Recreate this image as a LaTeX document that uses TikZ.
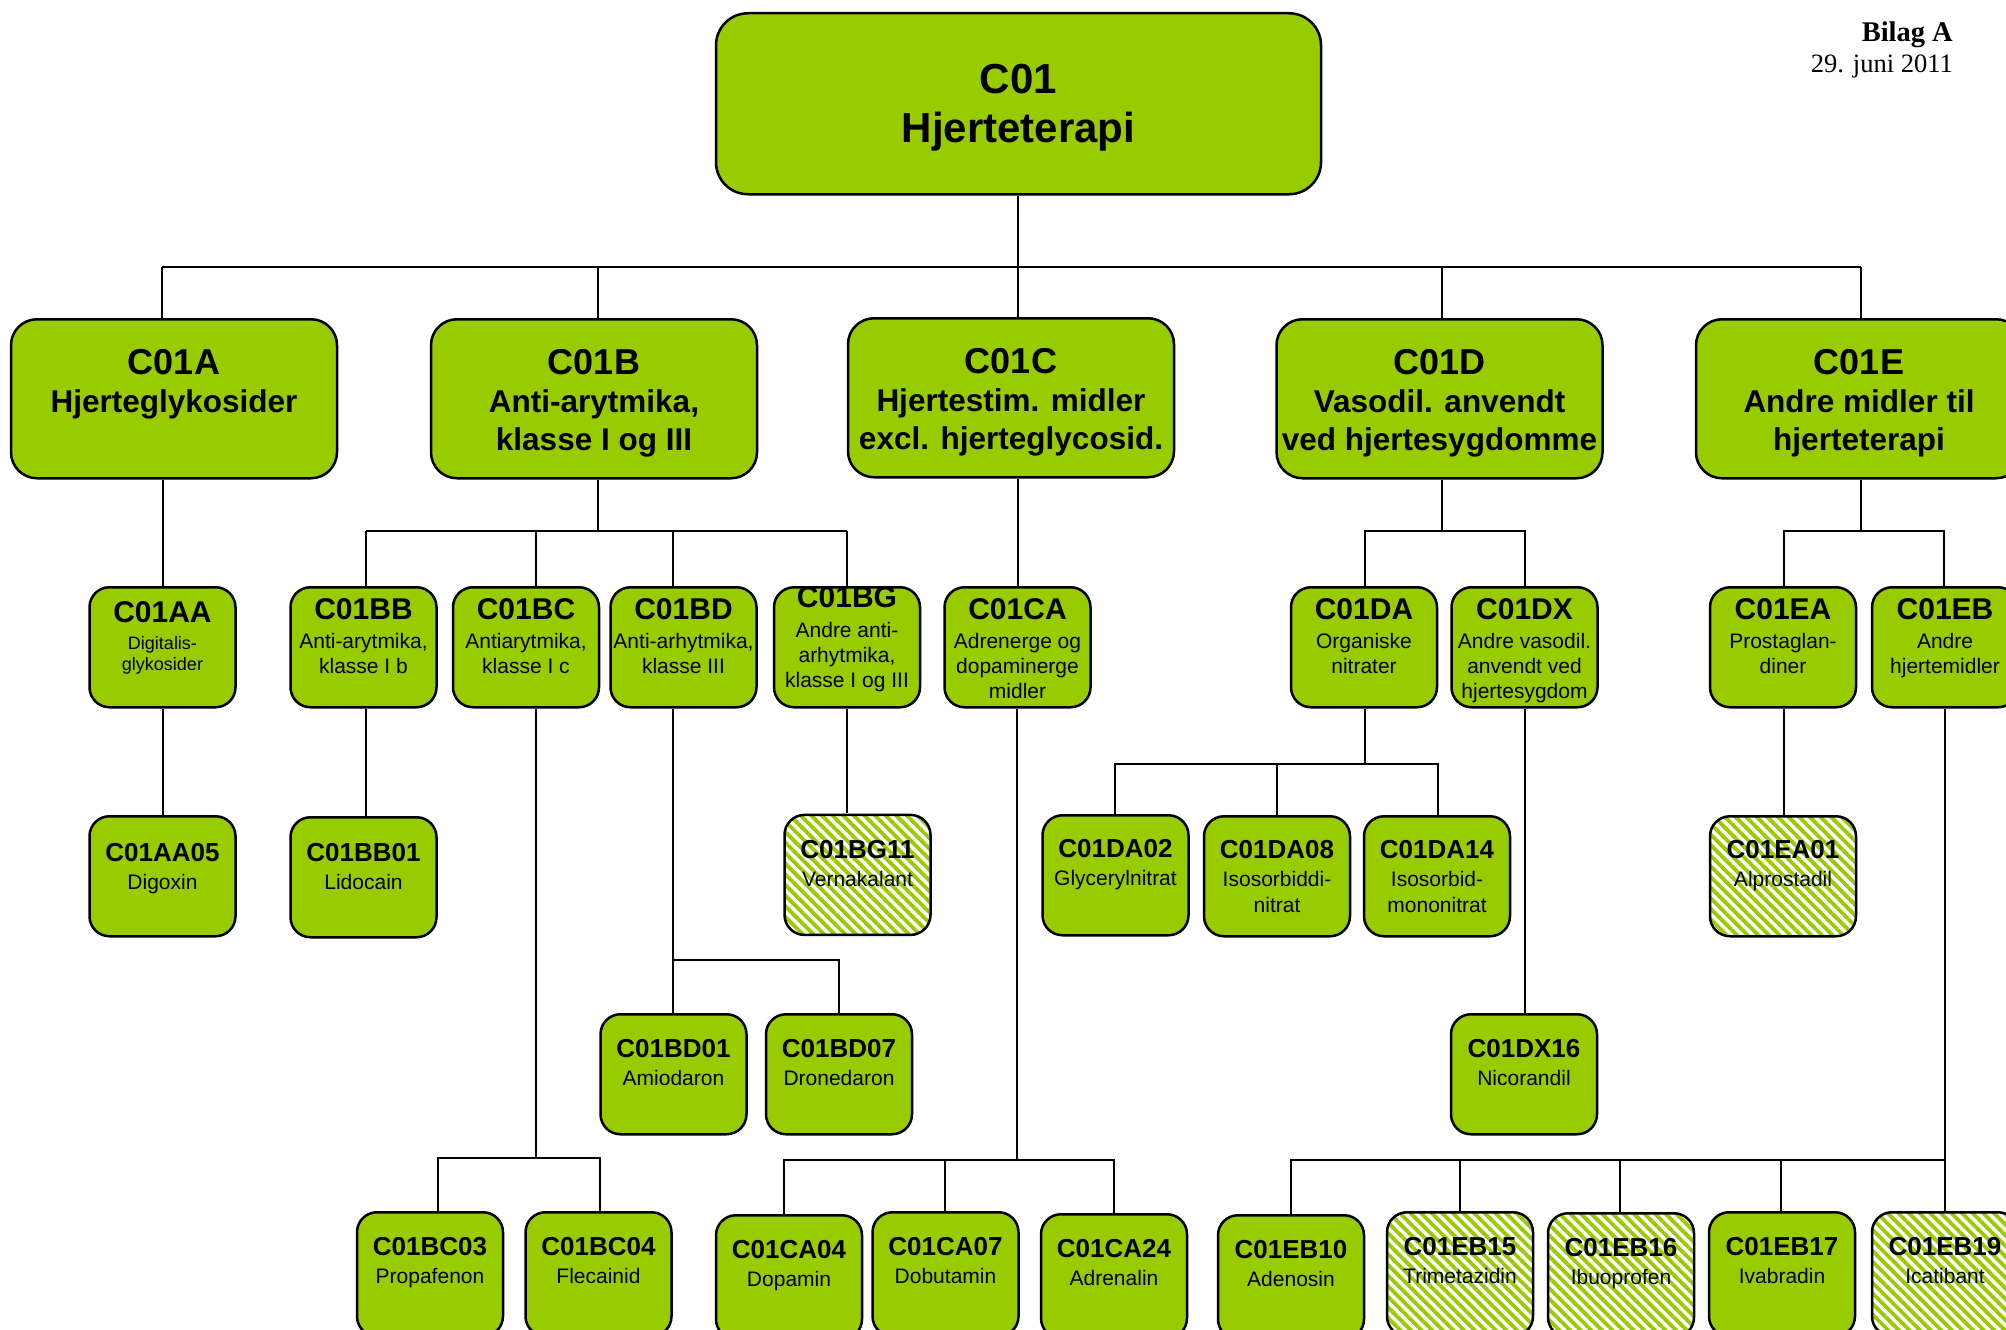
\documentclass[tikz,border=0pt]{standalone}
\usepackage{fontspec}
\setmainfont{Liberation Sans}
\newfontfamily\seriffont{Liberation Serif}
\usetikzlibrary{patterns.meta}
\definecolor{leafgreen}{RGB}{153,204,0}
% #1 title font, #2 body font, #3 gap, #4 title, #5 body
\newcommand\tbl[5]{#2\begin{tabular}[t]{@{}c@{}}{#1#4}\\[#3]#5\end{tabular}}
\newcommand\fA{\fontsize{42}{50}\selectfont\bfseries}
\newcommand\fB{\fontsize{36}{38}\selectfont\bfseries}
\newcommand\fBb{\fontsize{31.5}{38}\selectfont\bfseries}
\newcommand\fC{\fontsize{30}{30}\selectfont\bfseries}
\newcommand\fCb{\fontsize{21}{25}\selectfont}
\newcommand\fCs{\fontsize{18}{21}\selectfont}
\newcommand\fD{\fontsize{26}{26}\selectfont\bfseries}
\newcommand\fDb{\fontsize{21}{26}\selectfont}
\newcommand\Lone[2]{\tbl{\fB}{\fBb}{0pt}{#1}{#2}}
\newcommand\Ltwo[2]{\tbl{\fC}{\fCb}{4pt}{#1}{#2}}
\newcommand\Leaf[2]{\tbl{\fD}{\fDb}{2pt}{#1}{#2}}
\tikzset{
  nodebase/.style={draw=black, line width=2.5pt, inner sep=0pt, anchor=north, rectangle},
  bigbox/.style={nodebase, fill=leafgreen, minimum width=605pt, minimum height=181pt, rounded corners=32pt},
  lonebox/.style={nodebase, fill=leafgreen, minimum width=326pt, minimum height=159pt, rounded corners=26pt},
  ltwobox/.style={nodebase, fill=leafgreen, minimum width=146pt, minimum height=120pt, rounded corners=20pt},
  lowbox/.style={nodebase, fill=leafgreen, minimum width=146pt, minimum height=124pt, rounded corners=20pt},
  hatchbox/.style={nodebase, minimum width=146pt, minimum height=120pt, rounded corners=20pt,
    pattern={Lines[angle=-45,distance=7.5pt,line width=3.8pt]}, pattern color=leafgreen},
  lowhatch/.style={hatchbox, minimum height=124pt},
  txt/.style={anchor=base, inner sep=0pt},
  conn/.style={line width=2pt, draw=black},
}
\begin{document}
\begin{tikzpicture}[x=1pt, y=-1pt]
\useasboundingbox (0,0) rectangle (2006,1330);
\fill[white] (0,0) rectangle (2006,1330);
\clip (0,0) rectangle (2006,1330);

% header
\node[txt, anchor=base east] (bilag) at (1953,42) {\seriffont\fontsize{28.5}{30}\selectfont\bfseries Bilag A};
\node[txt, anchor=base east] (dato) at (1953,73) {\seriffont\fontsize{26.5}{30}\selectfont 29. juni 2011};

% level 0
\node[bigbox] (C01) at (1018.5,12) {};
\node[txt] (C01t) at ([yshift=-81pt]C01.north) {\tbl{\fA}{\fA}{0pt}{C01}{Hjerteterapi}};

% level 1
\node[lonebox] (C01A) at (174,318) {};
\node[lonebox] (C01B) at (594,318) {};
\node[lonebox] (C01C) at (1011,317) {};
\node[lonebox] (C01D) at (1439.5,318) {};
\node[lonebox] (C01E) at (1859,318) {};
\node[txt] (C01At) at ([yshift=-56pt]C01A.north) {\Lone{C01A}{Hjerteglykosider}};
\node[txt] (C01Bt) at ([yshift=-56pt]C01B.north) {\Lone{C01B}{Anti-arytmika,\\klasse I og III}};
\node[txt] (C01Ct) at ([yshift=-56pt]C01C.north) {\Lone{C01C}{Hjertestim. midler\\excl. hjerteglycosid.}};
\node[txt] (C01Dt) at ([yshift=-56pt]C01D.north) {\Lone{C01D}{Vasodil. anvendt\\ved hjertesygdomme}};
\node[txt] (C01Et) at ([yshift=-56pt]C01E.north) {\Lone{C01E}{Andre midler til\\hjerteterapi}};

% level 2
\node[ltwobox] (C01AA) at (162.5,586) {};
\node[ltwobox] (C01BB) at (363.5,586) {};
\node[ltwobox] (C01BC) at (526,586) {};
\node[ltwobox] (C01BD) at (683.5,586) {};
\node[ltwobox] (C01BG) at (847,586) {};
\node[ltwobox] (C01CA) at (1017.5,586) {};
\node[ltwobox] (C01DA) at (1364,586) {};
\node[ltwobox] (C01DX) at (1524.5,586) {};
\node[ltwobox] (C01EA) at (1783,586) {};
\node[ltwobox] (C01EB) at (1945,586) {};
\node[txt] (C01AAt) at ([yshift=-36pt]C01AA.north) {\tbl{\fC}{\fCs}{6pt}{C01AA}{Digitalis-\\glykosider}};
\node[txt] (C01BBt) at ([yshift=-33pt]C01BB.north) {\Ltwo{C01BB}{Anti-arytmika,\\klasse I b}};
\node[txt] (C01BCt) at ([yshift=-33pt]C01BC.north) {\Ltwo{C01BC}{Antiarytmika,\\klasse I c}};
\node[txt] (C01BDt) at ([yshift=-33pt]C01BD.north) {\Ltwo{C01BD}{Anti-arhytmika,\\klasse III}};
\node[txt] (C01BGt) at ([yshift=-21pt]C01BG.north) {\tbl{\fC}{\fCb}{5pt}{C01BG}{Andre anti-\\arhytmika,\\klasse I og III}};
\node[txt] (C01CAt) at ([yshift=-33pt]C01CA.north) {\Ltwo{C01CA}{Adrenerge og\\dopaminerge\\midler}};
\node[txt] (C01DAt) at ([yshift=-33pt]C01DA.north) {\Ltwo{C01DA}{Organiske\\nitrater}};
\node[txt] (C01DXt) at ([yshift=-33pt]C01DX.north) {\Ltwo{C01DX}{Andre vasodil.\\anvendt ved\\hjertesygdom}};
\node[txt] (C01EAt) at ([yshift=-33pt]C01EA.north) {\Ltwo{C01EA}{Prostaglan-\\diner}};
\node[txt] (C01EBt) at ([yshift=-33pt]C01EB.north) {\Ltwo{C01EB}{Andre\\hjertemidler}};

% level 3
\node[ltwobox] (C01AA05) at (162.5,815) {};
\node[ltwobox] (C01BB01) at (363.5,816) {};
\node[hatchbox] (C01BG11) at (857.5,813) {};
\node[ltwobox] (C01DA02) at (1115.5,814) {};
\node[ltwobox] (C01DA08) at (1277,815) {};
\node[ltwobox] (C01DA14) at (1437,815) {};
\node[hatchbox] (C01EA01) at (1783,815) {};
\node[ltwobox] (C01BD01) at (673.5,1013) {};
\node[ltwobox] (C01BD07) at (839,1013) {};
\node[ltwobox] (C01DX16) at (1524,1013) {};
\node[lowbox] (C01BC03) at (430,1211) {};
\node[lowbox] (C01BC04) at (598.5,1211) {};
\node[lowbox] (C01CA04) at (789,1214) {};
\node[lowbox] (C01CA07) at (945.5,1211) {};
\node[lowbox] (C01CA24) at (1114,1213) {};
\node[lowbox] (C01EB10) at (1291,1214) {};
\node[lowhatch] (C01EB15) at (1460,1211) {};
\node[lowhatch] (C01EB16) at (1621,1212) {};
\node[lowbox] (C01EB17) at (1782,1211) {};
\node[lowhatch] (C01EB19) at (1945,1211) {};

\node[txt] (C01AA05t) at ([yshift=-46pt]C01AA05.north) {\Leaf{C01AA05}{Digoxin}};
\node[txt] (C01BB01t) at ([yshift=-45pt]C01BB01.north) {\Leaf{C01BB01}{Lidocain}};
\node[txt] (C01BG11t) at ([yshift=-45pt]C01BG11.north) {\Leaf{C01BG11}{Vernakalant}};
\node[txt] (C01DA02t) at ([yshift=-43pt]C01DA02.north) {\Leaf{C01DA02}{Glycerylnitrat}};
\node[txt] (C01DA08t) at ([yshift=-43pt]C01DA08.north) {\Leaf{C01DA08}{Isosorbiddi-\\nitrat}};
\node[txt] (C01DA14t) at ([yshift=-43pt]C01DA14.north) {\Leaf{C01DA14}{Isosorbid-\\mononitrat}};
\node[txt] (C01EA01t) at ([yshift=-43pt]C01EA01.north) {\Leaf{C01EA01}{Alprostadil}};
\node[txt] (C01BD01t) at ([yshift=-44pt]C01BD01.north) {\Leaf{C01BD01}{Amiodaron}};
\node[txt] (C01BD07t) at ([yshift=-44pt]C01BD07.north) {\Leaf{C01BD07}{Dronedaron}};
\node[txt] (C01DX16t) at ([yshift=-44pt]C01DX16.north) {\Leaf{C01DX16}{Nicorandil}};
\node[txt] (C01BC03t) at ([yshift=-44pt]C01BC03.north) {\Leaf{C01BC03}{Propafenon}};
\node[txt] (C01BC04t) at ([yshift=-44pt]C01BC04.north) {\Leaf{C01BC04}{Flecainid}};
\node[txt] (C01CA04t) at ([yshift=-44pt]C01CA04.north) {\Leaf{C01CA04}{Dopamin}};
\node[txt] (C01CA07t) at ([yshift=-44pt]C01CA07.north) {\Leaf{C01CA07}{Dobutamin}};
\node[txt] (C01CA24t) at ([yshift=-44pt]C01CA24.north) {\Leaf{C01CA24}{Adrenalin}};
\node[txt] (C01EB10t) at ([yshift=-44pt]C01EB10.north) {\Leaf{C01EB10}{Adenosin}};
\node[txt] (C01EB15t) at ([yshift=-44pt]C01EB15.north) {\Leaf{C01EB15}{Trimetazidin}};
\node[txt] (C01EB16t) at ([yshift=-44pt]C01EB16.north) {\Leaf{C01EB16}{Ibuoprofen}};
\node[txt] (C01EB17t) at ([yshift=-44pt]C01EB17.north) {\Leaf{C01EB17}{Ivabradin}};
\node[txt] (C01EB19t) at ([yshift=-44pt]C01EB19.north) {\Leaf{C01EB19}{Icatibant}};

% ---------- connectors ----------
% C01 -> level 1
\coordinate (bL) at (162,267);
\coordinate (bR) at (1861,267);
\coordinate (bC) at (1018,267);
\coordinate (bB) at (598,267);
\coordinate (bD) at (1442,267);
\draw[conn] (C01.south -| bC) -- (bC |- C01C.north);
\draw[conn] (bL) -- (bR);
\draw[conn] (bL) -- (bL |- C01A.north);
\draw[conn] (bB) -- (bB |- C01B.north);
\draw[conn] (bD) -- (bD |- C01D.north);
\draw[conn] (bR) -- (bR |- C01E.north);

% C01A branch
\draw[conn] (C01A.south -| C01AA.north) -- (C01AA.north);
\draw[conn] (C01AA.south) -- (C01AA05.north);

% C01B branch
\coordinate (jB) at (598,531);
\coordinate (jBL) at (366,531);
\coordinate (jBC) at (536,531);
\coordinate (jBD) at (673,531);
\coordinate (jBR) at (847,531);
\draw[conn] (C01B.south -| jB) -- (jB);
\draw[conn] (jBL) -- (jBR);
\draw[conn] (jBL) -- (jBL |- C01BB.north);
\draw[conn] (jBC) -- (jBC |- C01BC.north);
\draw[conn] (jBD) -- (jBD |- C01BD.north);
\draw[conn] (jBR) -- (jBR |- C01BG.north);
\draw[conn] (C01BB.south -| jBL) -- (jBL |- C01BB01.north);
\draw[conn] (C01BG.south -| jBR) -- (jBR |- C01BG11.north);

% C01BD
\coordinate (jBD2) at (673,960);
\coordinate (jBD3) at (839,960);
\draw[conn] (C01BD.south -| jBD) -- (jBD |- C01BD01.north);
\draw[conn] (jBD2) -- (jBD3) -- (C01BD07.north);

% C01BC
\coordinate (jBC2) at (536,1158);
\coordinate (jBC3) at (438,1158);
\coordinate (jBC4) at (600,1158);
\draw[conn] (C01BC.south -| jBC) -- (jBC2);
\draw[conn] (jBC3 |- C01BC03.north) -- (jBC3) -- (jBC4) -- (jBC4 |- C01BC04.north);

% C01C branch
\draw[conn] (C01C.south -| bC) -- (bC |- C01CA.north);
\coordinate (jCA) at (1017,1160);
\coordinate (jCA1) at (784,1160);
\coordinate (jCA2) at (945,1160);
\coordinate (jCA3) at (1114,1160);
\draw[conn] (C01CA.south -| jCA) -- (jCA);
\draw[conn] (jCA1 |- C01CA04.north) -- (jCA1) -- (jCA3) -- (jCA3 |- C01CA24.north);
\draw[conn] (jCA2) -- (jCA2 |- C01CA07.north);

% C01D branch
\coordinate (jD) at (1442,531);
\coordinate (jDL) at (1365,531);
\coordinate (jDR) at (1525,531);
\draw[conn] (C01D.south -| jD) -- (jD);
\draw[conn] (jDL |- C01DA.north) -- (jDL) -- (jDR) -- (jDR |- C01DX.north);
\coordinate (jDA) at (1365,764);
\coordinate (jDA1) at (1115,764);
\coordinate (jDA2) at (1277,764);
\coordinate (jDA3) at (1438,764);
\draw[conn] (C01DA.south -| jDA) -- (jDA);
\draw[conn] (jDA1 |- C01DA02.north) -- (jDA1) -- (jDA3) -- (jDA3 |- C01DA14.north);
\draw[conn] (jDA2) -- (jDA2 |- C01DA08.north);
\draw[conn] (C01DX.south -| jDR) -- (jDR |- C01DX16.north);

% C01E branch
\coordinate (jE) at (1861,531);
\coordinate (jEL) at (1784,531);
\coordinate (jER) at (1944,531);
\draw[conn] (C01E.south -| jE) -- (jE);
\draw[conn] (jEL |- C01EA.north) -- (jEL) -- (jER) -- (jER |- C01EB.north);
\draw[conn] (C01EA.south -| jEL) -- (jEL |- C01EA01.north);
\coordinate (jEB) at (1945,1160);
\coordinate (jEB1) at (1291,1160);
\coordinate (jEB2) at (1460,1160);
\coordinate (jEB3) at (1620,1160);
\coordinate (jEB4) at (1781,1160);
\draw[conn] (C01EB.south -| jEB) -- (jEB |- C01EB19.north);
\draw[conn] (jEB1 |- C01EB10.north) -- (jEB1) -- (jEB);
\draw[conn] (jEB2) -- (jEB2 |- C01EB15.north);
\draw[conn] (jEB3) -- (jEB3 |- C01EB16.north);
\draw[conn] (jEB4) -- (jEB4 |- C01EB17.north);
\end{tikzpicture}
\end{document}
